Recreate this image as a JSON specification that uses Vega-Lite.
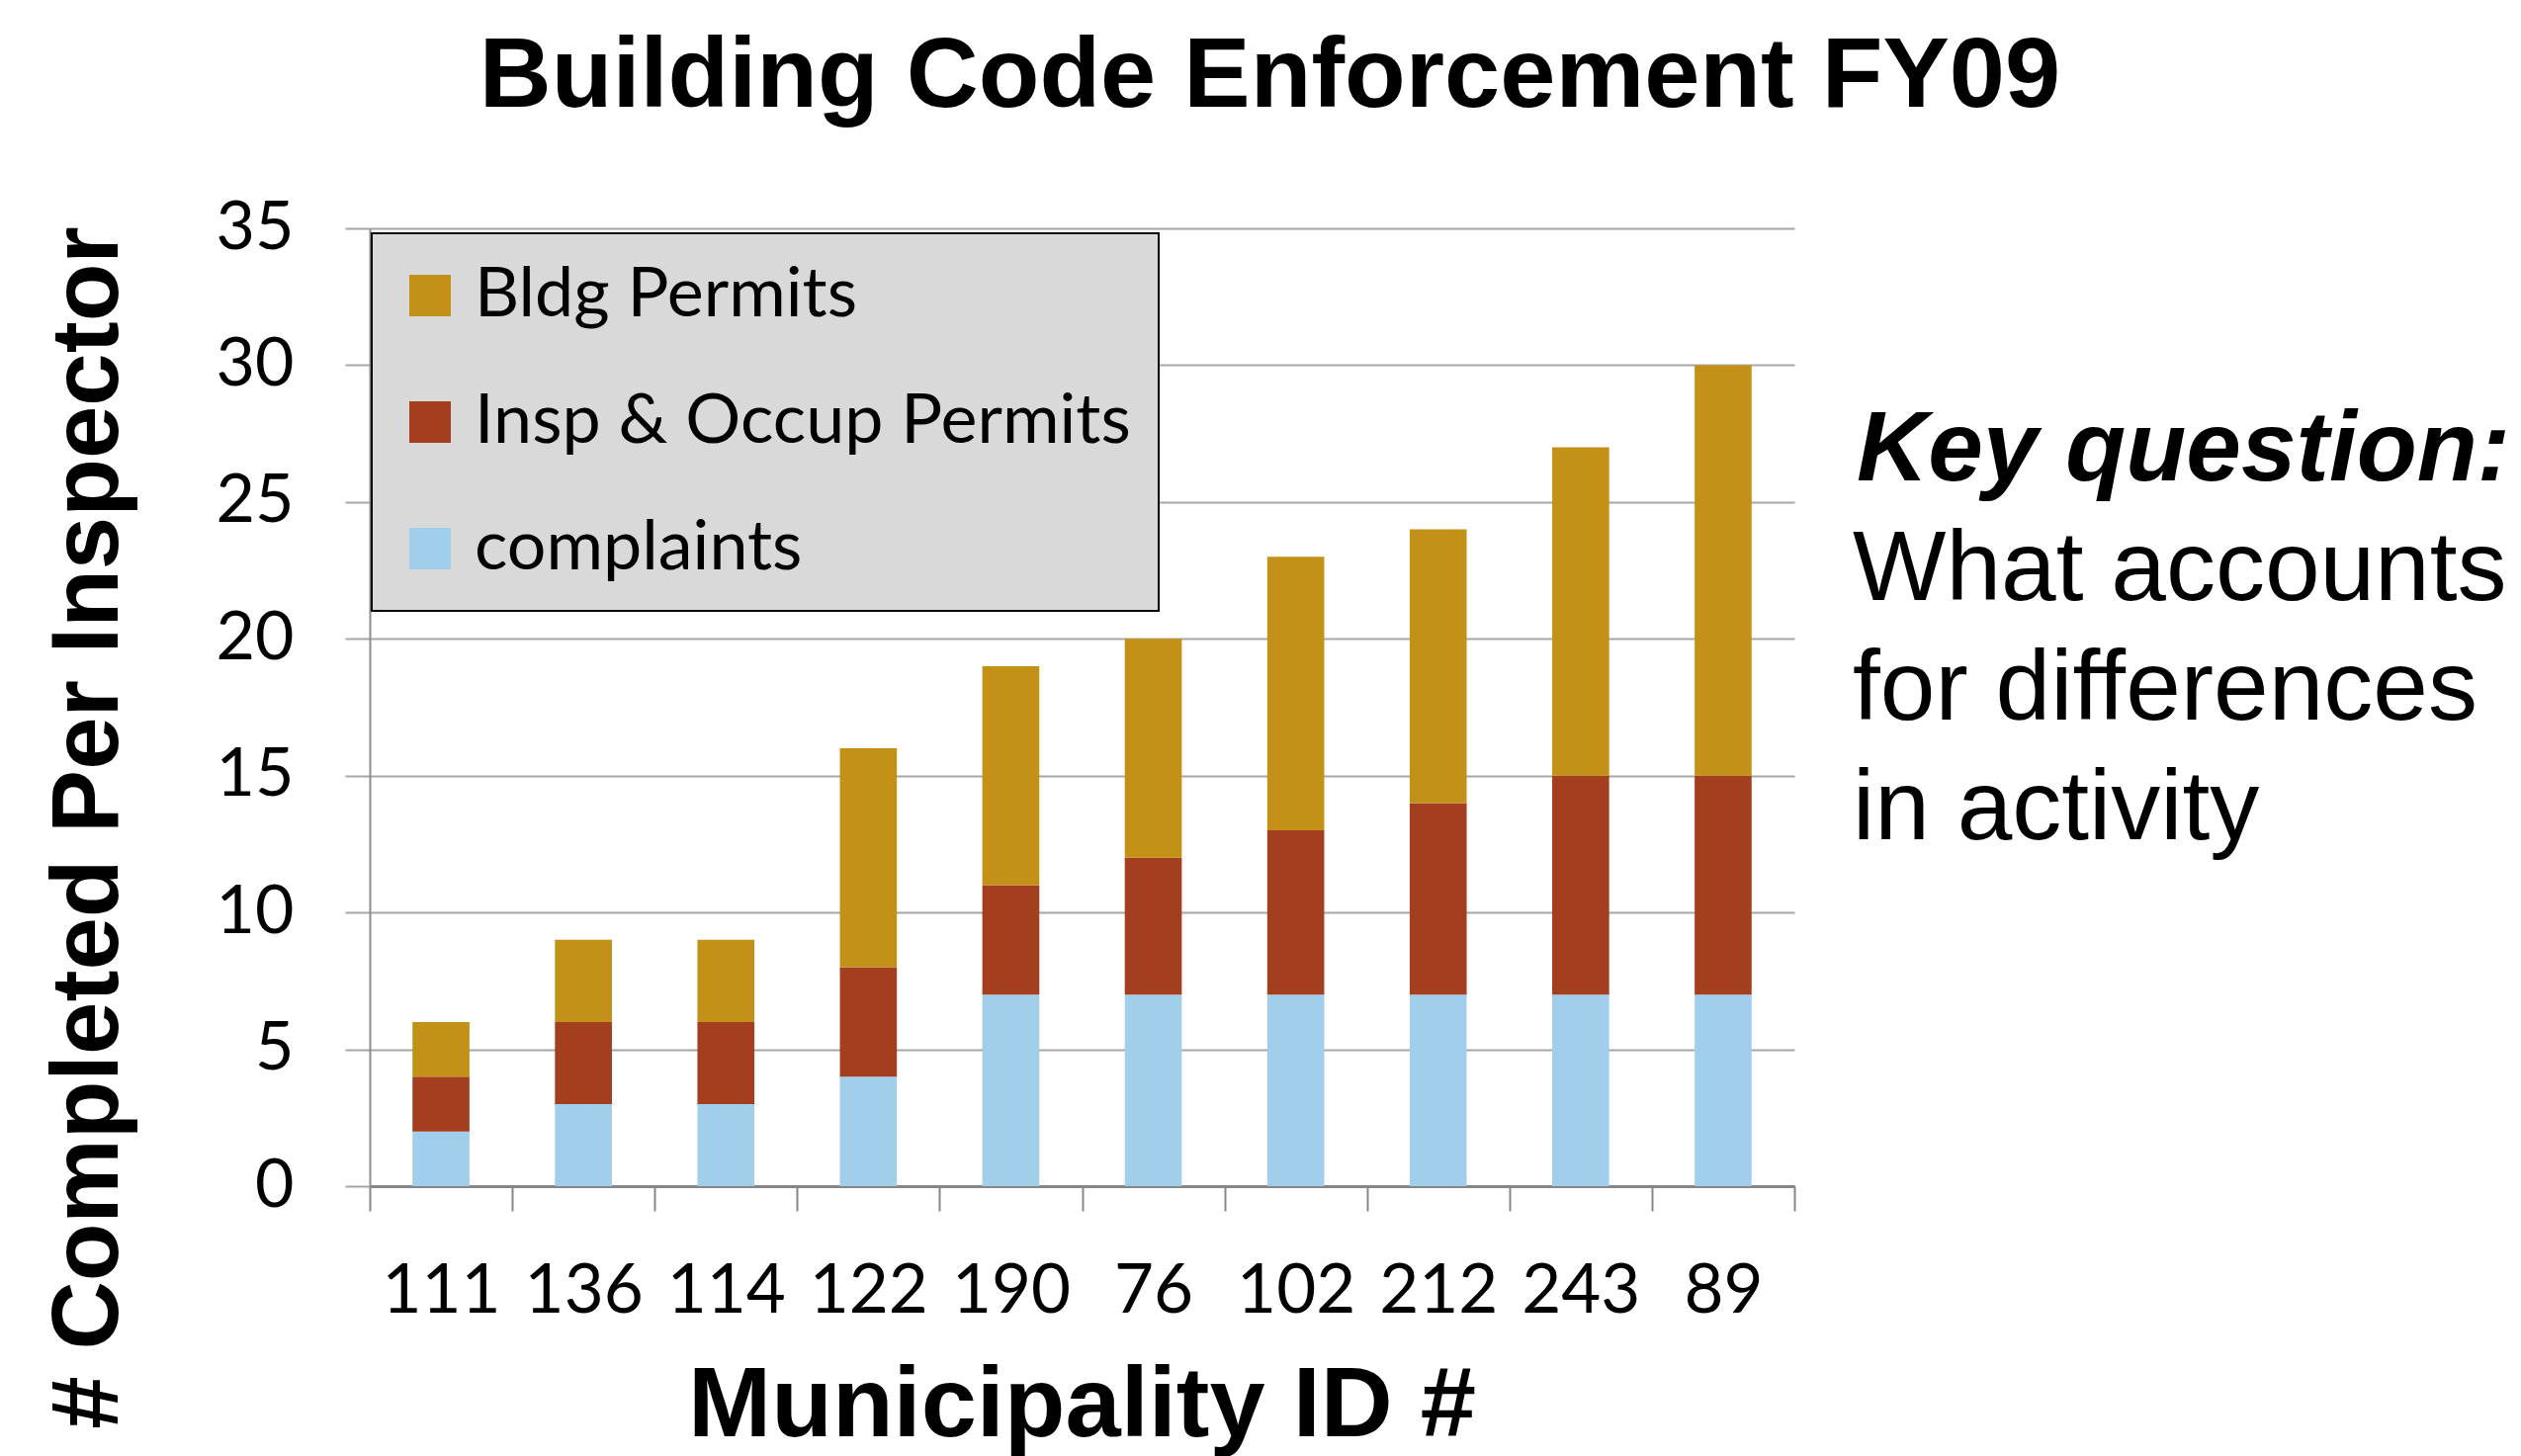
{
  "$schema": "https://vega.github.io/schema/vega-lite/v6.json",
  "autosize": {"type": "none"},
  "padding": {"left": 374, "top": 231, "right": 735, "bottom": 273},
  "width": 1441,
  "height": 969,
  "background": "white",
  "title": {
    "text": "Building Code Enforcement FY09",
    "font": "Liberation Sans",
    "fontSize": 101,
    "fontWeight": "bold",
    "color": "black",
    "anchor": "middle",
    "baseline": "alphabetic",
    "dx": 190,
    "offset": -12
  },
  "config": {
    "view": {"stroke": null},
    "legend": {"strokeWidth": 2}
  },
  "resolve": {"scale": {"x": "independent"}},
  "layer": [
    {
      "data": {
        "values": [
          {"id": "111", "type": "complaints", "count": 2},
          {"id": "111", "type": "Insp & Occup Permits", "count": 2},
          {"id": "111", "type": "Bldg Permits", "count": 2},
          {"id": "136", "type": "complaints", "count": 3},
          {"id": "136", "type": "Insp & Occup Permits", "count": 3},
          {"id": "136", "type": "Bldg Permits", "count": 3},
          {"id": "114", "type": "complaints", "count": 3},
          {"id": "114", "type": "Insp & Occup Permits", "count": 3},
          {"id": "114", "type": "Bldg Permits", "count": 3},
          {"id": "122", "type": "complaints", "count": 4},
          {"id": "122", "type": "Insp & Occup Permits", "count": 4},
          {"id": "122", "type": "Bldg Permits", "count": 8},
          {"id": "190", "type": "complaints", "count": 7},
          {"id": "190", "type": "Insp & Occup Permits", "count": 4},
          {"id": "190", "type": "Bldg Permits", "count": 8},
          {"id": "76", "type": "complaints", "count": 7},
          {"id": "76", "type": "Insp & Occup Permits", "count": 5},
          {"id": "76", "type": "Bldg Permits", "count": 8},
          {"id": "102", "type": "complaints", "count": 7},
          {"id": "102", "type": "Insp & Occup Permits", "count": 6},
          {"id": "102", "type": "Bldg Permits", "count": 10},
          {"id": "212", "type": "complaints", "count": 7},
          {"id": "212", "type": "Insp & Occup Permits", "count": 7},
          {"id": "212", "type": "Bldg Permits", "count": 10},
          {"id": "243", "type": "complaints", "count": 7},
          {"id": "243", "type": "Insp & Occup Permits", "count": 8},
          {"id": "243", "type": "Bldg Permits", "count": 12},
          {"id": "89", "type": "complaints", "count": 7},
          {"id": "89", "type": "Insp & Occup Permits", "count": 8},
          {"id": "89", "type": "Bldg Permits", "count": 15}
        ]
      },
      "mark": {"type": "bar", "width": {"band": 0.4}},
      "encoding": {
        "x": {
          "field": "id",
          "type": "nominal",
          "sort": null,
          "scale": {"paddingInner": 0, "paddingOuter": 0},
          "title": "Municipality ID #",
          "axis": {
            "labelAngle": 0,
            "tickBand": "extent",
            "grid": false,
            "domainColor": "#868686",
            "domainWidth": 3,
            "tickColor": "#868686",
            "tickWidth": 2,
            "tickSize": 25,
            "labelFont": "Lato",
            "labelFontSize": 69,
            "labelColor": "black",
            "labelBaseline": "alphabetic",
            "labelPadding": 102,
            "titleFont": "Liberation Sans",
            "titleFontSize": 101,
            "titleFontWeight": "bold",
            "titleColor": "black",
            "titleX": 720,
            "titleY": 252,
            "titleAlign": "center",
            "titleBaseline": "alphabetic"
          }
        },
        "y": {
          "field": "count",
          "type": "quantitative",
          "stack": "zero",
          "scale": {"domain": [0, 35], "nice": false},
          "title": "# Completed Per Inspector",
          "axis": {
            "values": [0, 5, 10, 15, 20, 25, 30, 35],
            "grid": true,
            "gridColor": "#a6a6a6",
            "gridWidth": 2,
            "domainColor": "#8c8c8c",
            "domainWidth": 2,
            "tickColor": "#a6a6a6",
            "tickWidth": 2,
            "tickSize": 25,
            "labelFont": "Lato",
            "labelFontSize": 68,
            "labelColor": "black",
            "labelPadding": 52,
            "titleFont": "Liberation Sans",
            "titleFontSize": 96,
            "titleFontWeight": "bold",
            "titleColor": "black",
            "titleAngle": -90,
            "titleX": -256,
            "titleY": 606,
            "titleAlign": "center",
            "titleBaseline": "alphabetic"
          }
        },
        "color": {
          "field": "type",
          "type": "nominal",
          "scale": {
            "domain": ["Bldg Permits", "Insp & Occup Permits", "complaints"],
            "range": ["#C49118", "#A33E1F", "#A1CFEB"]
          },
          "legend": {
            "title": null,
            "orient": "none",
            "legendX": 2,
            "legendY": 5,
            "direction": "vertical",
            "fillColor": "#d9d9d9",
            "strokeColor": "#000000",
            "padding": 28,
            "symbolType": "square",
            "symbolSize": 1764,
            "symbolStrokeWidth": 0,
            "symbolOffset": -4,
            "labelFont": "Lato",
            "labelFontSize": 70,
            "labelColor": "black",
            "labelOffset": 10,
            "labelLimit": 0,
            "rowPadding": 58
          }
        },
        "order": {"field": "type", "sort": "descending"}
      }
    },
    {
      "data": {"values": [{"note": "Key question:"}]},
      "mark": {
        "type": "text",
        "font": "Liberation Sans",
        "fontSize": 100,
        "fontWeight": "bold",
        "fontStyle": "italic",
        "align": "left",
        "baseline": "alphabetic",
        "color": "black"
      },
      "encoding": {
        "text": {"field": "note"},
        "x": {"datum": 1.0437, "type": "quantitative", "scale": {"domain": [0, 1]}, "axis": null},
        "y": {"datum": 25.79, "type": "quantitative"}
      }
    },
    {
      "data": {"values": [{"note": "What accounts\nfor differences\nin activity"}]},
      "mark": {
        "type": "text",
        "font": "Liberation Sans",
        "fontSize": 100,
        "lineBreak": "\n",
        "lineHeight": 121,
        "align": "left",
        "baseline": "alphabetic",
        "color": "black"
      },
      "encoding": {
        "text": {"field": "note"},
        "x": {"datum": 1.041, "type": "quantitative", "scale": {"domain": [0, 1]}, "axis": null},
        "y": {"datum": 21.42, "type": "quantitative"}
      }
    }
  ]
}
